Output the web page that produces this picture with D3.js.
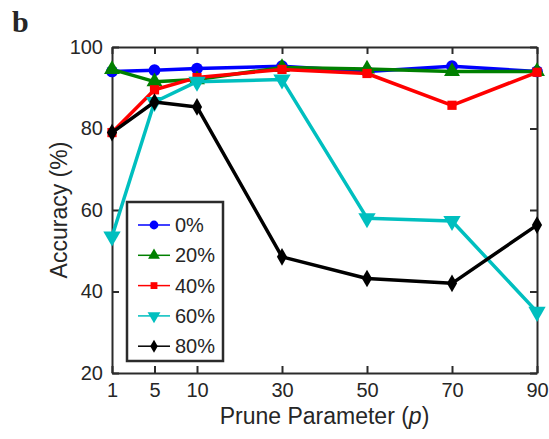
<!DOCTYPE html>
<head>
  <meta charset="utf-8">
  <script src="https://d3js.org/d3.v7.min.js"></script>
  <style>
    body { margin: 0; background: white; }
    text { font-family: "Liberation Sans", Arial, sans-serif; fill: #262626; }
  </style>
</head>
<body>
<script>
// prune parameter values
const pruneParams = [1, 5, 10, 30, 50, 70, 90];
const yTicks = [20, 40, 60, 80, 100];

const acc0 = [94, 94.3, 94.7, 95.3, 94, 95.3, 94];
const acc20 = [94.5, 91.5, 92, 95, 94.6, 94, 94];
const acc40 = [79, 89.5, 92.5, 94.5, 93.5, 85.7, 93.8];
const acc60 = [53.5, 86.5, 91.5, 92, 58, 57.3, 35];
const acc80 = [79, 86.5, 85.3, 48.5, 43.2, 42, 56.3];

const seriesNames = ['0%', '20%', '40%', '60%', '80%'];
const seriesData = [acc0, acc20, acc40, acc60, acc80];
const colors = ['#0000ff', '#008000', '#ff0000', '#00bfbf', '#000000'];
const symbols = [d3.symbolCircle, d3.symbolTriangle, d3.symbolSquare, 'tri-down', d3.symbolDiamond];
const symSize = [110, 110, 85, 130, 90];

const W = 549, H = 439;
const m = { left: 112, right: 12, top: 47, bottom: 66 };

const svg = d3.select('body').append('svg').attr('width', W).attr('height', H);

const pw = W - m.left - m.right;
const x = d3.scaleLinear()
  .domain([1, 5, 10, 90])
  .range([m.left, m.left + pw / 10, m.left + 2 * pw / 10, W - m.right]);
const y = d3.scaleLinear().domain([20, 100]).range([H - m.bottom, m.top]);

const axisColor = '#2b2b2b';

// axes
const gx = svg.append('g').attr('transform', `translate(0,${H - m.bottom})`)
  .call(d3.axisBottom(x).tickValues(pruneParams).tickSizeInner(-7).tickSizeOuter(0).tickPadding(10));
const gxt = svg.append('g').attr('transform', `translate(0,${m.top})`)
  .call(d3.axisTop(x).tickValues(pruneParams).tickSizeInner(-7).tickSizeOuter(0).tickFormat(''));
const gy = svg.append('g').attr('transform', `translate(${m.left},0)`)
  .call(d3.axisLeft(y).tickValues(yTicks).tickSizeInner(-7).tickSizeOuter(0).tickPadding(9));
const gyr = svg.append('g').attr('transform', `translate(${W - m.right},0)`)
  .call(d3.axisRight(y).tickValues(yTicks).tickSizeInner(-7).tickSizeOuter(0).tickFormat(''));

[gx, gxt, gy, gyr].forEach(g => {
  g.selectAll('path.domain').attr('stroke', axisColor).attr('stroke-width', 2);
  g.selectAll('.tick line').attr('stroke', axisColor).attr('stroke-width', 2);
  g.selectAll('.tick text').style('font-size', '20px').attr('fill', '#333')
    .style('font-family', '"Liberation Sans", Arial, sans-serif');
});

function symPath(s, size) {
  if (s === 'tri-down') return d3.symbol(d3.symbolTriangle, size)();
  return d3.symbol(s, size)();
}
function symRot(s) { return s === 'tri-down' ? ' rotate(180)' : ''; }

const line = d3.line().x((d, i) => x(pruneParams[i])).y(d => y(d));

seriesData.forEach((vals, k) => {
  svg.append('path').datum(vals)
    .attr('d', line).attr('fill', 'none')
    .attr('stroke', colors[k]).attr('stroke-width', 3.5)
    .attr('stroke-linejoin', 'round');
  svg.selectAll(null).data(vals).enter().append('path')
    .attr('d', symPath(symbols[k], symSize[k]))
    .attr('transform', (d, i) => `translate(${x(pruneParams[i])},${y(d)})${symRot(symbols[k])}`)
    .attr('fill', colors[k]);
});

// legend
const lg = svg.append('g').attr('transform', 'translate(127,202)');
lg.append('rect').attr('width', 96).attr('height', 159)
  .attr('fill', 'white').attr('stroke', axisColor).attr('stroke-width', 2.5);
seriesNames.forEach((name, k) => {
  const yy = 23 + k * 30.3;
  lg.append('line').attr('x1', 11).attr('x2', 43).attr('y1', yy).attr('y2', yy)
    .attr('stroke', colors[k]).attr('stroke-width', 1.5);
  lg.append('path').attr('d', symPath(symbols[k], symSize[k] * 0.55))
    .attr('transform', `translate(27,${yy})${symRot(symbols[k])}`)
    .attr('fill', colors[k]);
  lg.append('text').attr('x', 48).attr('y', yy + 7).attr('fill', '#000')
    .style('font-size', '20px').text(name);
});

// labels
svg.append('text').attr('transform', `translate(67,${(m.top + H - m.bottom) / 2}) rotate(-90)`)
  .attr('text-anchor', 'middle').style('font-size', '23px').attr('fill', '#333').text('Accuracy (%)');
const xl = svg.append('text').attr('x', m.left + pw / 2).attr('y', 424)
  .attr('text-anchor', 'middle').style('font-size', '23px').attr('fill', '#333');
xl.append('tspan').text('Prune Parameter (');
xl.append('tspan').style('font-style', 'italic').text('p');
xl.append('tspan').text(')');

svg.append('text').attr('x', 12).attr('y', 32)
  .style('font-family', '"Liberation Serif", "Times New Roman", serif')
  .style('font-weight', 'bold').style('font-size', '30px').attr('fill', '#000').text('b');
</script>
</body>
